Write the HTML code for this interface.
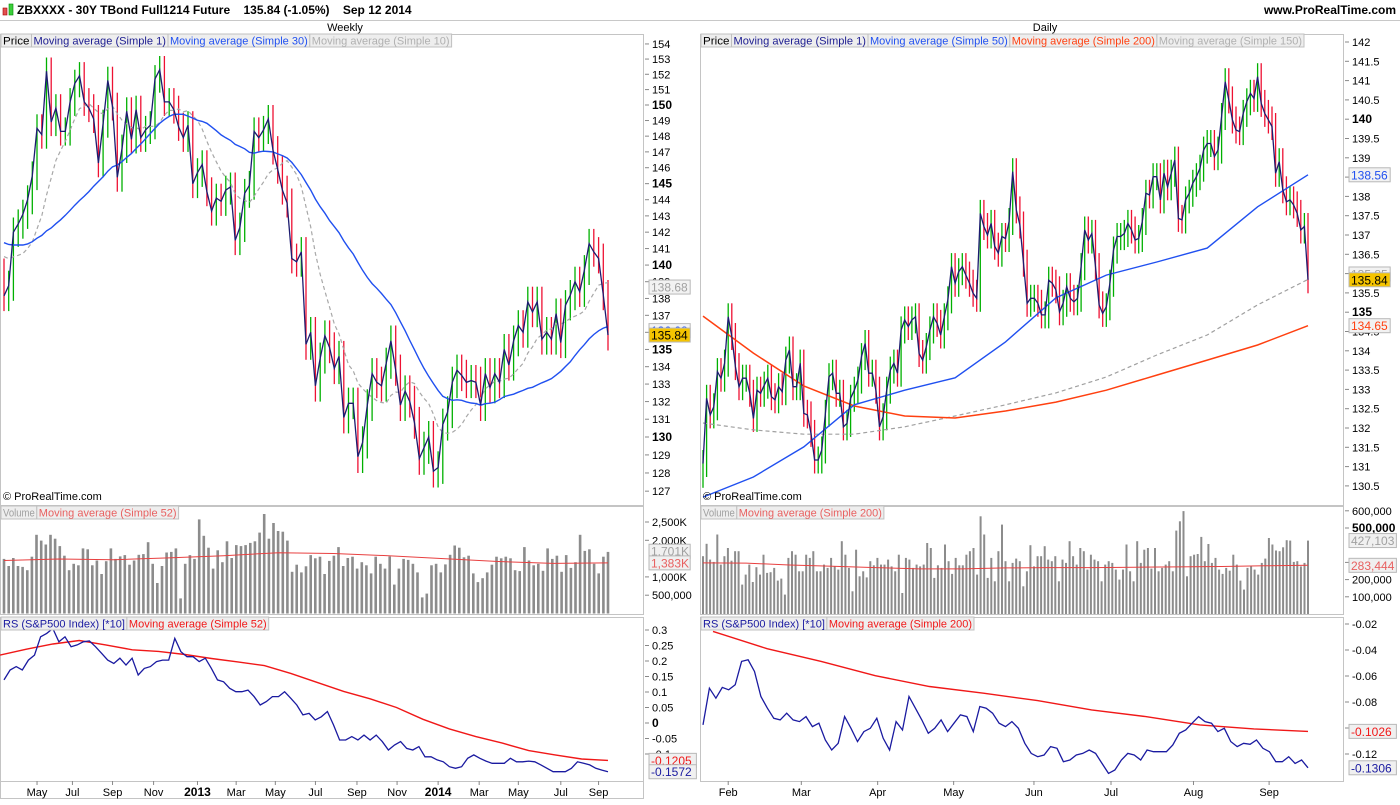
<!DOCTYPE html>
<html><head><meta charset="utf-8">
<style>
html,body{margin:0;padding:0;background:#fff;}
body{width:1400px;height:800px;overflow:hidden;font-family:"Liberation Sans",Arial,sans-serif;}
svg text{font-family:"Liberation Sans",Arial,sans-serif;}
</style></head>
<body>
<svg id="chart" width="1400" height="800" xmlns="http://www.w3.org/2000/svg">
  <rect x="0" y="0" width="1400" height="800" fill="#fff"/>
  <g>
    <rect x="3" y="8" width="4" height="7" fill="#e05050" stroke="#a00" stroke-width="0.6"/>
    <rect x="9" y="4" width="4" height="11" fill="#3ccf3c" stroke="#080" stroke-width="0.6"/>
    <text x="17" y="14" font-size="12" font-weight="bold" fill="#000">ZBXXXX - 30Y TBond Full1214 Future&#160;&#160;&#160;&#160;135.84 (-1.05%)&#160;&#160;&#160;&#160;Sep 12 2014</text>
    <text x="1396" y="14" font-size="12" font-weight="bold" fill="#000" text-anchor="end">www.ProRealTime.com</text>
    <line x1="0" y1="20.5" x2="1400" y2="20.5" stroke="#c8c8c8"/>
    <text x="345" y="31" font-size="11" fill="#000" text-anchor="middle">Weekly</text>
    <text x="1045" y="31" font-size="11" fill="#000" text-anchor="middle">Daily</text>
  </g>
  <g id="layer"></g>
</svg>
<script>
// ===== Weekly data =====
const wPrior = [142,143,142.5,143,142,141.5,142,143,144,143.5,142,141,140,141,142,143,142.5,141,139,137.5,140,141,141.5,142,141,141.5,140.5,140,139.5];
const wClose = [138.15,138.76,142.0,142.5,143.1,144.0,145.5,148.5,148.1,152.2,148.9,149.8,148.3,148.3,150.2,151.4,151.9,150.2,149.8,149.1,146.3,148.8,151.6,149.9,145.4,147.2,149.6,147.8,149.7,147.9,148.4,148.7,151.7,152.3,150.2,150.2,149.7,148.6,147.9,148.7,145.0,145.7,146.2,144.5,143.3,144.1,143.9,144.6,144.8,141.5,142.3,144.4,144.9,148.3,147.9,148.4,149.1,147.1,145.9,144.6,143.8,140.4,140.2,140.8,135.3,136.0,132.9,134.5,135.8,135.1,
133.9,134.6,131.1,131.9,131.9,128.9,129.7,131.8,133.6,133.1,132.9,134.2,135.5,133.8,131.8,132.6,132.0,130.8,128.8,129.4,130.0,128.1,128.3,130.7,131.4,133.1,133.8,133.5,133.1,133.2,133.1,131.8,133.6,132.8,133.6,133.1,135.0,134.1,135.5,136.4,136.0,137.8,137.2,137.8,135.6,136.0,135.6,137.1,135.4,137.6,138.2,139.0,138.4,139.7,141.3,140.8,140.4,138.2,135.84];
const wVolume = [1491,1298,1517,1298,1272,1184,1552,2149,1991,1886,2149,2043,1842,1579,1184,1359,1316,1780,1754,1316,1447,1079,1430,1780,1491,1561,1596,1333,1447,1605,1622,1947,1359,833,1298,1666,1684,1780,412,1359,1596,1491,2570,2122,1798,1228,1728,1403,1973,1517,1868,1842,1868,1929,1973,2210,2719,2043,2473,2254,2236,1991,1140,1333,1123,1289,1596,1508,1552,1079,1438,1579,1815,1298,1517,1552,1228,1403,1316,1096,1552,1359,1228,1561,789,1228,1491,1465,1359,1123,439,544,1316,1359,1123,1342,1605,1859,1798,1535,1579,1096,859,965,1123,1333,1552,1508,1552,1508,1184,1158,1815,1447,1316,1359,1166,1780,1491,1579,1140,1596,1245,1403,2149,1710,1754,1359,1096,1552,1684];
const wVolMa = [1447,1490,1470,1520,1580,1660,1640,1580,1500,1420,1370,1383];
const wRs = [0.139,0.171,0.182,0.171,0.203,0.219,0.278,0.289,0.305,0.262,0.278,0.246,0.252,0.262,0.265,0.246,0.225,0.203,0.192,0.209,0.187,0.209,0.155,0.176,0.182,0.198,0.203,0.203,0.273,0.230,0.214,0.214,0.198,0.209,0.176,0.139,0.133,0.112,0.101,0.101,0.106,0.085,0.058,0.069,0.085,0.085,0.101,0.080,0.058,0.026,0.031,0.010,0.020,0.037,-0.006,-0.055,-0.055,-0.044,-0.055,-0.039,-0.055,-0.039,-0.060,-0.087,-0.071,-0.060,-0.082,-0.087,-0.076,-0.109,-0.109,-0.119,-0.125,-0.141,-0.146,-0.141,-0.114,-0.103,-0.114,-0.123,-0.130,-0.130,-0.130,-0.114,-0.125,-0.125,-0.123,-0.125,-0.135,-0.146,-0.157,-0.157,-0.157,-0.146,-0.125,-0.130,-0.135,-0.146,-0.152,-0.1572];
const wRsMa = [0.219,0.238,0.255,0.266,0.252,0.236,0.231,0.221,0.208,0.197,0.185,0.160,0.131,0.102,0.078,0.050,0.012,-0.019,-0.044,-0.065,-0.089,-0.103,-0.116,-0.1205];
const wPriceTicks = [127,128,129,130,131,132,133,134,135,136,137,138,139,140,141,142,143,144,145,146,147,148,149,150,151,152,153,154];
const wVolTicks = [500,1000,2000,2500];
const wVolTickLabels = ["500,000","1,000K","2,000K","2,500K"];
const wRsTicks = [-0.1,-0.05,0,0.05,0.1,0.15,0.2,0.25,0.3];
const wMonths = ["May","Jul","Sep","Nov","2013","Mar","May","Jul","Sep","Nov","2014","Mar","May","Jul","Sep"];
const wMonthIdx = [7,14.5,23,31.7,41,49.2,57.5,66,74.8,83.3,92,100.7,109,118,126];

// ===== Daily data =====
const dClose = [131.08,132.77,132.34,132.55,133.46,133.29,133.68,134.88,134.37,133.59,133.07,133.29,133.29,132.90,132.25,132.98,132.90,133.11,133.29,132.81,132.73,133.07,132.94,133.76,134.02,133.07,133.07,133.68,132.38,132.34,131.86,131.17,131.17,131.43,132.38,133.33,133.42,132.90,132.90,132.03,132.12,132.77,132.98,133.24,133.85,134.19,133.42,133.42,132.98,132.03,132.29,132.98,133.50,133.68,133.42,134.54,134.80,134.63,134.80,134.88,133.93,133.76,134.11,134.54,134.88,134.71,134.41,134.88,135.32,136.18,135.75,136.05,136.18,135.96,135.75,135.49,135.36,137.56,137.22,137.00,137.30,136.71,136.53,136.96,136.91,
137.35,138.64,137.65,137.26,136.27,135.23,135.36,135.36,135.23,134.93,134.93,135.83,135.75,135.58,135.01,135.23,135.66,135.36,135.27,135.36,136.18,137.13,136.87,137.04,136.18,135.19,134.97,135.14,135.75,136.61,136.96,136.96,137.04,137.30,137.13,136.87,136.91,137.35,138.08,138.04,138.51,138.51,137.91,138.60,138.25,138.60,138.94,137.43,137.39,137.91,138.08,138.34,138.51,138.73,139.20,139.37,139.37,139.03,139.20,140.07,140.97,140.50,139.98,139.72,139.68,140.15,140.45,140.67,140.54,141.10,140.41,140.15,139.98,139.81,138.60,138.90,138.17,137.86,137.91,137.78,137.56,137.13,137.22,135.84];
const dMa50 = [130.21,130.73,131.51,132.60,132.98,133.30,134.23,135.37,135.96,136.30,136.66,137.73,138.56];
const dMa150 = [132.13,131.95,131.84,131.84,132.03,132.31,132.60,132.91,133.32,133.89,134.41,135.19,135.85];
const dMa200 = [134.90,133.94,133.09,132.57,132.31,132.26,132.44,132.67,132.98,133.37,133.76,134.15,134.65];
const dVolume = [336,408,316,303,462,287,336,384,310,365,365,171,229,287,186,272,229,345,239,243,268,194,206,113,326,365,345,248,248,345,326,365,248,248,287,268,326,277,258,423,345,268,132,374,219,248,213,307,283,326,287,287,316,277,248,345,122,326,316,268,287,277,287,413,384,210,283,268,404,307,233,326,283,283,345,365,384,229,568,462,210,326,190,365,520,307,190,297,322,307,161,248,400,277,336,336,394,316,307,336,190,316,297,423,336,287,384,365,258,345,316,307,190,287,307,297,258,200,258,404,248,190,423,297,374,384,264,384,248,268,287,307,248,485,539,598,219,336,345,349,448,307,407,297,326,258,233,268,252,345,287,194,142,268,277,258,229,297,322,442,404,369,365,388,429,427,303,307,277,297,427];
const dVolMa = [297,296,285,278,270,262,262,268,270,270,272,274,276,280,283];
const dRs = [-0.0976,-0.0694,-0.0771,-0.0688,-0.0706,-0.0668,-0.0488,-0.0475,-0.0565,-0.0758,-0.0848,-0.0925,-0.0938,-0.0886,-0.0938,-0.0951,-0.0912,-0.0989,-0.0963,-0.1092,-0.1169,-0.1118,-0.0912,-0.1002,-0.1105,-0.1028,-0.1002,-0.0925,-0.1079,-0.1169,-0.0951,-0.1015,-0.0758,-0.0848,-0.0938,-0.1041,-0.1002,-0.0938,-0.1028,-0.0963,-0.0899,-0.0912,-0.1028,-0.0835,-0.0848,-0.0886,-0.0963,-0.0989,-0.0951,-0.1002,-0.1118,-0.1195,-0.1221,-0.1208,-0.1143,-0.1156,-0.1259,-0.1246,-0.1208,-0.1195,-0.1169,-0.1195,-0.1272,-0.1349,-0.1323,-0.1246,-0.1195,-0.1208,-0.1246,-0.1169,-0.1182,-0.1182,-0.1182,-0.1131,-0.1041,-0.1015,-0.0963,-0.0912,-0.0951,-0.0963,-0.1028,-0.1002,-0.1105,-0.1143,-0.1118,-0.1125,-0.1092,-0.1156,-0.1182,-0.1259,-0.1259,-0.1221,-0.1272,-0.1246,-0.1306];
const dRsMa = [-0.0257,-0.0390,-0.0488,-0.0598,-0.0681,-0.0732,-0.0789,-0.0861,-0.0912,-0.0976,-0.1007,-0.1026];
const dPriceTicks = [130.5,131,131.5,132,132.5,133,133.5,134,134.5,135,135.5,136,136.5,137,137.5,138,138.5,139,139.5,140,140.5,141,141.5,142];
const dVolTicks = [100,200,300,500,600];
const dVolTickLabels = ["100,000","200,000","300,000","500,000","600,000"];
const dRsTicks = [-0.12,-0.1,-0.08,-0.06,-0.04,-0.02];
const dMonths = ["Feb","Mar","Apr","May","Jun","Jul","Aug","Sep"];
const dMonthIdx = [7,27.3,48.5,69.6,91.9,113.3,136.2,157.2];

const NS = "http://www.w3.org/2000/svg";
const layer = document.getElementById('layer');
function mk(tag, attrs, parent, text){
  const e = document.createElementNS(NS, tag);
  for (const k in attrs) e.setAttribute(k, attrs[k]);
  if (text !== undefined) e.textContent = text;
  (parent || layer).appendChild(e);
  return e;
}
function linePath(vals, xf, yf){
  return vals.map((v,i)=>(i?'L':'M')+xf(i,vals.length).toFixed(1)+' '+yf(v).toFixed(1)).join(' ');
}
function legend(g, x, y, items){
  let cx = x;
  items.forEach(it=>{
    const w = it.t.length*5.3+4;
    const r = mk('rect',{x:cx,y:y,width:w,height:13,fill:'#eeeeee',stroke:'#c0c0c0','stroke-width':1},g);
    
    
    const t = mk('text',{x:cx+2,y:y+10.5,'font-size':11,fill:it.c,textLength:(w-4).toFixed(1),lengthAdjust:'spacingAndGlyphs'},g,it.t);
    
    
    cx += w;
  });
}
function valueBox(g, x, y, txt, col, bg){
  const w = txt.length*6.2+4;
  const r = mk('rect',{x:x,y:y-7,width:w,height:14,fill:bg,stroke:'#b8b8b8'},g);
  
  
  const t = mk('text',{x:x+2,y:y+4.5,'font-size':12,fill:col},g,txt);
  
  
}
function sma(arr, n){
  const out=[];
  for(let i=n-1;i<arr.length;i++){let s=0;for(let j=i-n+1;j<=i;j++)s+=arr[j];out.push(s/n);}
  return out;
}

function buildSide(cfg){
  const g = mk('g',{});
  
  
  const L=cfg.L, R=cfg.R, axX=R+2;
  const N = cfg.close.length;
  const xOf = (i,n)=> cfg.x0 + (cfg.x1-cfg.x0)*i/(n-1);
  const xi = i => xOf(i,N);
  [[34,505],[506,614],[617,781]].forEach((p,k)=>{
    const f = mk('rect',{x:L+0.5,y:p[0]+0.5,width:R-L,height:p[1]-p[0],fill:'none',stroke:'#c4c4c4'},g);
    
    
  });
  mk('rect',{x:L+0.5,y:781.5,width:cfg.axisR-L,height:17,fill:'none',stroke:'#c4c4c4'},g);
  const py = cfg.py;
  cfg.priceTicks.forEach(v=>{
    const y = py(v);
    const tk = mk('line',{x1:axX,y1:y,x2:axX+4,y2:y,stroke:'#888'},g);
    
    
    const bold = cfg.boldTick(v);
    const t = mk('text',{x:axX+7,y:y+4,'font-size':bold?12:11,'font-weight':bold?'bold':'normal',fill:'#000'},g,String(v));
    
    
  });
  for(let i=0;i<N;i++){
    const c = cfg.close[i], p = i?cfg.close[i-1]:cfg.prevClose;
    const hi = Math.max(c,p)+cfg.wick, lo=Math.min(c,p)-cfg.wick;
    const up = c>=p;
    const b = mk('line',{x1:xi(i).toFixed(1),y1:py(hi).toFixed(1),x2:xi(i).toFixed(1),y2:py(lo).toFixed(1),stroke:up?'#00b000':'#ee1133','stroke-width':1.3},g);
    
    
  }
  cfg.mas.forEach(m=>{
    const mxf = m.full ? xi : (i,n)=> m.x0 + (cfg.x1-m.x0)*i/(n-1);
    const attrs = {d:linePath(m.vals,mxf,py),fill:'none',stroke:m.c,'stroke-width':m.w||1.4};
    if(m.dash) attrs['stroke-dasharray']=m.dash;
    const pth = mk('path',attrs,g);
    
    
  });
  const cl = mk('path',{d:linePath(cfg.close,xOf,py),fill:'none',stroke:'#1c1c70','stroke-width':1.3},g);
  
  
  const cp = mk('text',{x:L+3,y:500,'font-size':11,fill:'#000'},g,'© ProRealTime.com');
  
  
  legend(g,L+1,34,cfg.priceLegend);
  cfg.priceBoxes.forEach(b=>valueBox(g,axX+4,py(b.v),b.t,b.c,b.bg));

  const vy = v => cfg.vol0 - v*cfg.volK;
  cfg.volTicks.forEach((v,k)=>{
    const y=vy(v);
    mk('line',{x1:axX,y1:y,x2:axX+4,y2:y,stroke:'#888'},g);
    const bold = cfg.volTickLabels[k]==="500,000" && cfg.boldVol;
    const t=mk('text',{x:axX+7,y:y+4,'font-size':bold?12:11,'font-weight':bold?'bold':'normal',fill:'#000'},g,cfg.volTickLabels[k]);
    
    
  });
  const VN = cfg.volume.length;
  const bw = Math.max(1.6,(cfg.x1-cfg.x0)/(VN-1)*0.55);
  for(let i=0;i<VN;i++){
    const x = xOf(i,VN);
    const r = mk('rect',{x:(x-bw/2).toFixed(1),y:vy(cfg.volume[i]).toFixed(1),width:bw.toFixed(1),height:(cfg.vol0-vy(cfg.volume[i])).toFixed(1),fill:'#8c8c8c'},g);
    
    
  }
  const vm = mk('path',{d:linePath(cfg.volMa,xOf,vy),fill:'none',stroke:'#e84040','stroke-width':1},g);
  
  
  legend(g,L+1,506,cfg.volLegend);
  cfg.volBoxes.forEach(b=>valueBox(g,axX+4,vy(b.v),b.t,b.c,'#f0f0f0'));

  const ry = v => cfg.rs0 - v*cfg.rsK;
  cfg.rsTicks.forEach(v=>{
    const y=ry(v);
    mk('line',{x1:axX,y1:y,x2:axX+4,y2:y,stroke:'#888'},g);
    const bold = v===0;
    const t=mk('text',{x:axX+7,y:y+4,'font-size':bold?12:11,'font-weight':bold?'bold':'normal',fill:'#000'},g,String(v));
    
    
  });
  const rma = mk('path',{d:linePath(cfg.rsMa,(i,n)=>cfg.rsMaX0+(cfg.x1-cfg.rsMaX0)*i/(n-1),ry),fill:'none',stroke:'#f01818','stroke-width':1.4},g);
  
  
  const rs = mk('path',{d:linePath(cfg.rs,xOf,ry),fill:'none',stroke:'#1a1aa0','stroke-width':1.3},g);
  
  
  legend(g,L+1,617,cfg.rsLegend);
  cfg.rsBoxes.forEach(b=>valueBox(g,axX+4,ry(b.v),b.t,b.c,'#f0f0f0'));

  cfg.months.forEach((m,k)=>{
    const x = xOf(cfg.monthIdx[k], N);
    mk('line',{x1:x,y1:781,x2:x,y2:785,stroke:'#888'},g);
    const bold = /^\d{4}$/.test(m);
    const t = mk('text',{x:x,y:796,'font-size':bold?12:11,'font-weight':bold?'bold':'normal','text-anchor':'middle',fill:'#000'},g,m);
    
    
  });
}

const wAll = wPrior.concat(wClose);
buildSide({
  name:'weekly-chart', L:0, R:643, axisR:643, x0:4, x1:608,
  close:wClose, prevClose:139.5, wick:0.9,
  py: p => 437 - 2320*Math.log(p/130),
  priceTicks:wPriceTicks, boldTick:v=>v%5===0,
  mas:[
    {name:'ma10-line',vals:sma(wAll,10).slice(-wClose.length),c:'#a8a8a8',dash:'4,3',full:true,w:1.2},
    {name:'ma30-line',vals:sma(wAll,30).slice(-wClose.length),c:'#2050f0',full:true,w:1.4}
  ],
  priceLegend:[{t:'Price',c:'#000'},{t:'Moving average (Simple 1)',c:'#1c1c90'},{t:'Moving average (Simple 30)',c:'#2050f0'},{t:'Moving average (Simple 10)',c:'#b0b0b0'}],
  priceBoxes:[{v:138.68,t:'138.68',c:'#a0a0a0',bg:'#f2f2f2'},{v:136.1,t:'136.08',c:'#2050f0',bg:'#f2f2f2'},{v:135.84,t:'135.84',c:'#000',bg:'#f5c400'}],
  vol0:613.5, volK:0.0366, volume:wVolume, volMa:wVolMa, boldVol:false,
  volTicks:wVolTicks, volTickLabels:wVolTickLabels,
  volLegend:[{t:'Volume',c:'#a0a0a0'},{t:'Moving average (Simple 52)',c:'#e86060'}],
  volBoxes:[{v:1701,t:'1,701K',c:'#a0a0a0'},{v:1383,t:'1,383K',c:'#e86060'}],
  rs0:723, rsK:310, rs:wRs, rsMa:wRsMa, rsMaX0:0, rsTicks:wRsTicks,
  rsLegend:[{t:'RS (S&P500 Index) [*10]',c:'#1a1aa0'},{t:'Moving average (Simple 52)',c:'#f01818'}],
  rsBoxes:[{v:-0.1205,t:'-0.1205',c:'#f01818'},{v:-0.1572,t:'-0.1572',c:'#1a1aa0'}],
  months:wMonths, monthIdx:wMonthIdx
});

buildSide({
  name:'daily-chart', L:700, R:1343, axisR:700, x0:703, x1:1308,
  close:dClose, prevClose:130.8, wick:0.35,
  py: p => 42 + (142-p)*38.6,
  priceTicks:dPriceTicks, boldTick:v=>v%5===0,
  mas:[
    {name:'ma150-line',vals:dMa150,c:'#a0a0a0',dash:'4,3',x0:703,w:1.2},
    {name:'ma200-line',vals:dMa200,c:'#ff4010',x0:703,w:1.5},
    {name:'ma50-line',vals:dMa50,c:'#2050f0',x0:703,w:1.4}
  ],
  priceLegend:[{t:'Price',c:'#000'},{t:'Moving average (Simple 1)',c:'#1c1c90'},{t:'Moving average (Simple 50)',c:'#2050f0'},{t:'Moving average (Simple 200)',c:'#ff4010'},{t:'Moving average (Simple 150)',c:'#b0b0b0'}],
  priceBoxes:[{v:138.56,t:'138.56',c:'#2050f0',bg:'#f2f2f2'},{v:135.99,t:'135.85',c:'#a0a0a0',bg:'#f2f2f2'},{v:135.84,t:'135.84',c:'#000',bg:'#f5c400'},{v:134.65,t:'134.65',c:'#ff4010',bg:'#f2f2f2'}],
  vol0:614, volK:0.172, volume:dVolume, volMa:dVolMa, boldVol:true,
  volTicks:dVolTicks, volTickLabels:dVolTickLabels,
  volLegend:[{t:'Volume',c:'#a0a0a0'},{t:'Moving average (Simple 200)',c:'#e86060'}],
  volBoxes:[{v:427,t:'427,103',c:'#a0a0a0'},{v:283,t:'283,444',c:'#e86060'}],
  rs0:598, rsK:1300, rs:dRs, rsMa:dRsMa, rsMaX0:713, rsTicks:dRsTicks,
  rsLegend:[{t:'RS (S&P500 Index) [*10]',c:'#1a1aa0'},{t:'Moving average (Simple 200)',c:'#f01818'}],
  rsBoxes:[{v:-0.1026,t:'-0.1026',c:'#f01818'},{v:-0.1306,t:'-0.1306',c:'#1a1aa0'}],
  months:dMonths, monthIdx:dMonthIdx
});
</script>
</body></html>
